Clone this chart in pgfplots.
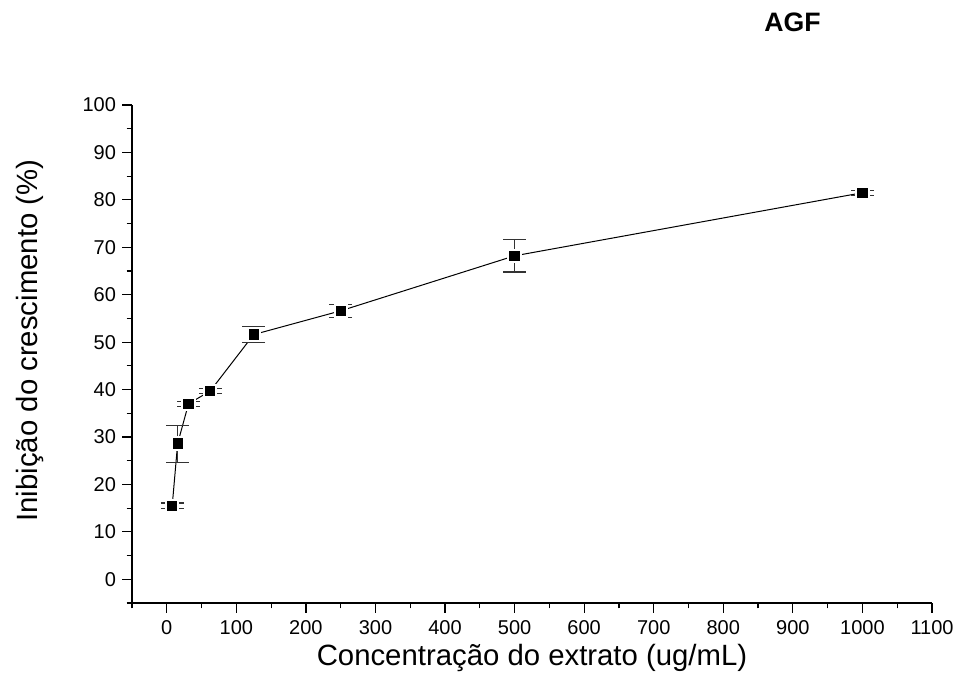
\documentclass[border=0pt]{standalone}
\usepackage{fontspec}
\setmainfont{Liberation Sans}
\usepackage{pgfplots}
\pgfplotsset{compat=1.18}

\begin{document}
\begin{tikzpicture}
\begin{axis}[
  scale only axis,
  width=600pt, height=373.5pt,
  xmin=-50, xmax=1100, ymin=-5, ymax=100,
  axis x line*=bottom, axis y line*=left,
  axis line style={line width=1.1pt},
  xtick={0,100,...,1100}, ytick={0,10,...,100},
  minor xtick={-50,50,...,1050}, minor ytick={-5,5,...,95},
  tick align=outside,
  major tick length=7.5pt, minor tick length=4pt,
  every tick/.style={line width=0.9pt,black},
  tick label style={font=\fontsize{15}{18}\selectfont},
  /pgf/number format/assume math mode=true,
  /pgf/number format/1000 sep={},
  xticklabel style={yshift=-2pt},
  yticklabel style={xshift=-1pt},
  xlabel={Concentração do extrato (ug/mL)},
  ylabel={Inibição do crescimento (\%)},
  label style={font=\fontsize{22}{26}\selectfont},
  xlabel style={at={(axis description cs:0.5,-0.110)},anchor=center},
  ylabel style={at={(axis description cs:-0.1275,0.527)},anchor=center},
  clip=false,
]
\addplot[black, line width=0.75pt] coordinates {
  (7.8,15.5) (15.6,28.6) (31.25,37.0) (62.5,39.7)
  (125,51.6) (250,56.6) (500,68.2) (1000,81.5)};
\addplot[only marks, mark=square*,
  mark options={fill=black, draw=white, line width=1.5pt}, mark size=4.6pt,
  error bars/.cd, y dir=both, y explicit,
  error bar style={black!80, line width=0.8pt},
  error mark options={rotate=90, mark size=8.5pt, line width=0.9pt, black!80}]
  table[x=x, y=y, y error=e] {
  x     y     e
  7.8   15.5  0.6
  15.6  28.6  3.9
  31.25 37.0  0.5
  62.5  39.7  0.6
  125   51.6  1.7
  250   56.6  1.4
  500   68.2  3.4
  1000  81.5  0.5
};
\node[font=\bfseries\fontsize{20}{24}\selectfont] at (axis description cs:0.8256,1.1657) {AGF};
\end{axis}
\path[use as bounding box] (-99pt,-66pt) rectangle (621pt,452.25pt);
\end{tikzpicture}
\end{document}
